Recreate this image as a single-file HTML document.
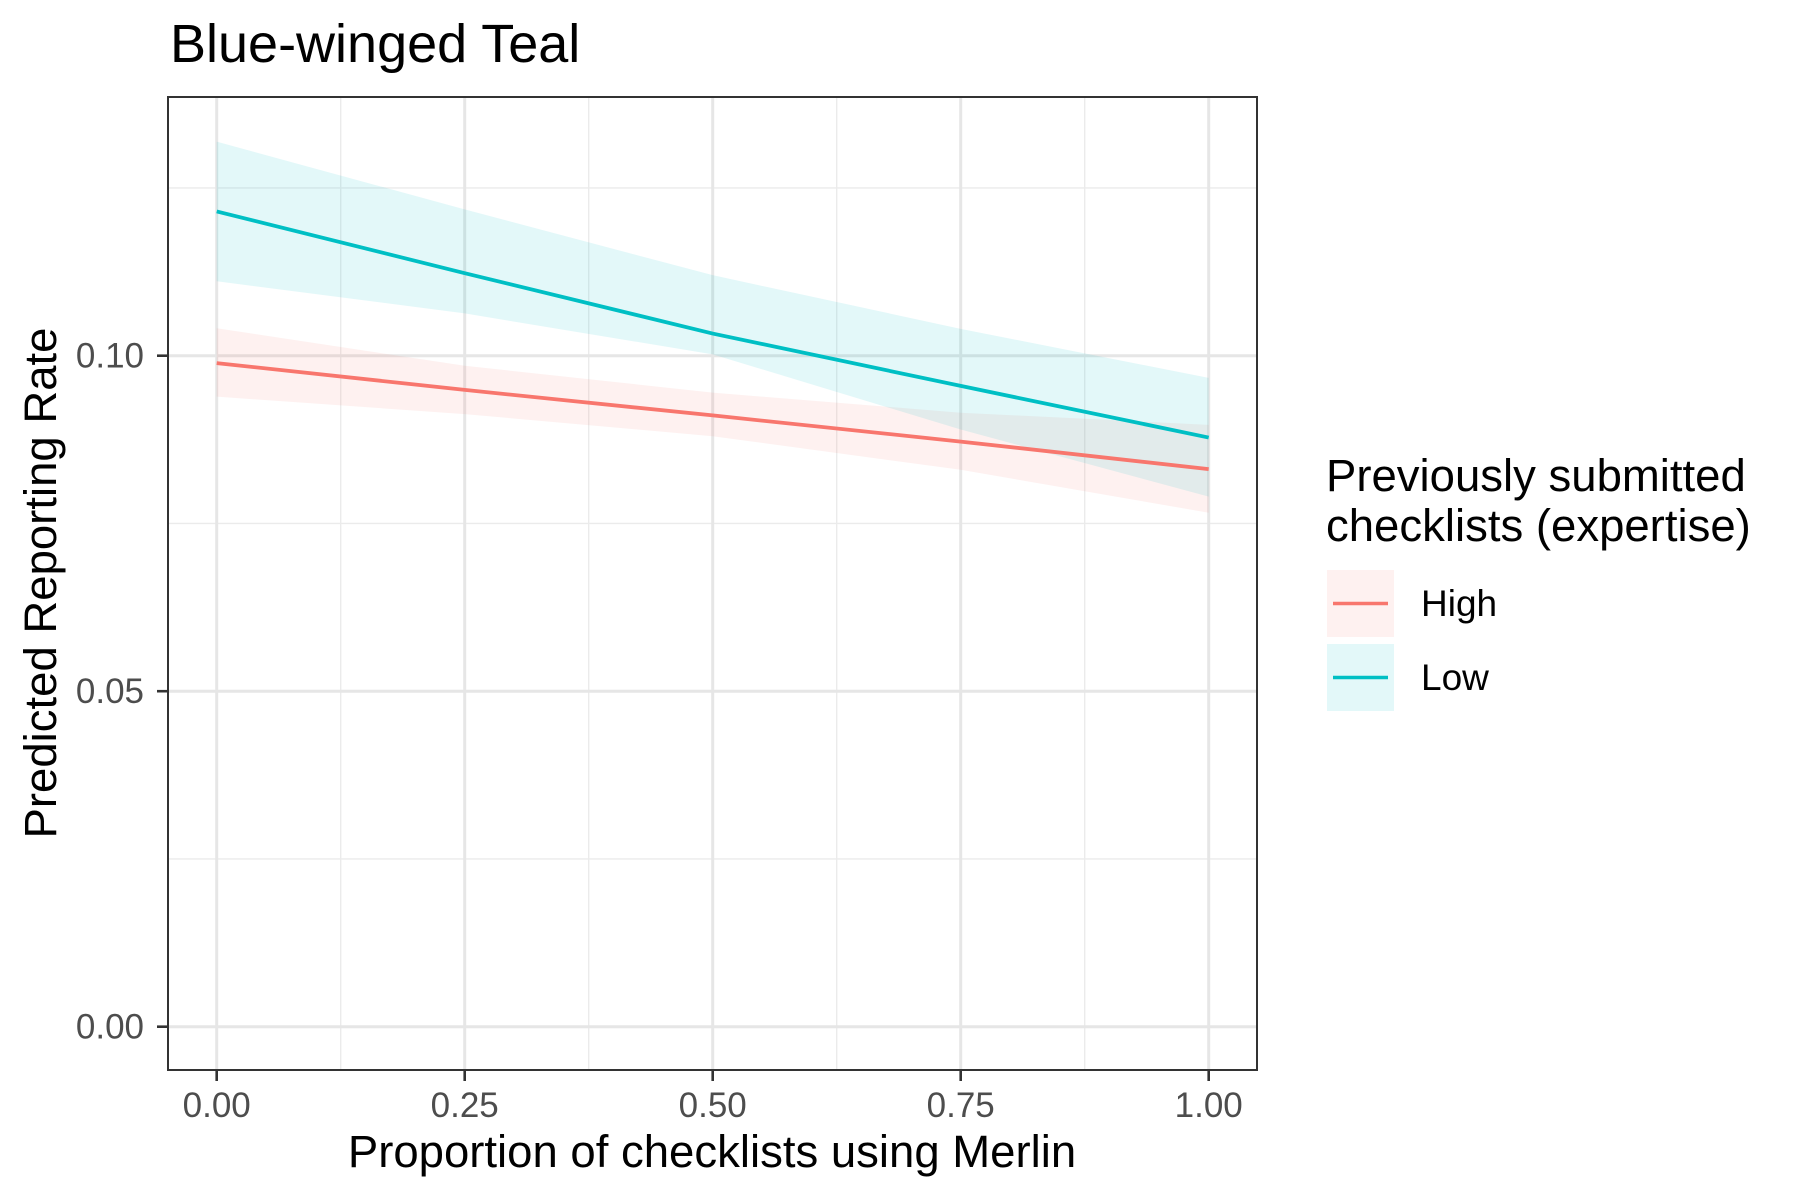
<!DOCTYPE html>
<html><head><meta charset="utf-8"><style>body{margin:0;background:#fff}svg{display:block}text{font-family:"Liberation Sans",Arial,sans-serif}</style></head>
<body>
<svg id="chart" width="1800" height="1200" viewBox="0 0 1800 1200">
<text x="170" y="62" font-size="54" fill="#000">Blue-winged Teal</text>
<g id="grid"></g><g id="bands"></g><g id="lines"></g>
<rect x="168" y="97" width="1089" height="973" fill="none" stroke="#333" stroke-width="2"/>
<g id="axes"></g>
<text x="712" y="1167" font-size="45.5" text-anchor="middle">Proportion of checklists using Merlin</text>
<text transform="translate(56,583) rotate(-90)" font-size="45.5" text-anchor="middle">Predicted Reporting Rate</text>
<text x="1326" y="491" font-size="45.5"><tspan x="1326">Previously submitted</tspan><tspan x="1326" dy="50">checklists (expertise)</tspan></text>
<g>
<rect x="1327" y="570" width="67" height="67" fill="#F8766D" fill-opacity="0.1"/>
<line x1="1333" x2="1388" y1="603.5" y2="603.5" stroke="#F8766D" stroke-width="3.5"/>
<text x="1421" y="616" font-size="37">High</text></g>
<g>
<rect x="1327" y="644" width="67" height="67" fill="#00BFC4" fill-opacity="0.11"/>
<line x1="1333" x2="1388" y1="677.5" y2="677.5" stroke="#00BFC4" stroke-width="3.5"/>
<text x="1421" y="690" font-size="37">Low</text></g>
</svg>
<script>
const xs = [0, 0.25, 0.5, 0.75, 1];
const highFit = [0.0989, 0.0949, 0.0911, 0.0872, 0.0831];
const highUpper = [0.1041, 0.0985, 0.0945, 0.0915, 0.0897];
const highLower = [0.0939, 0.0913, 0.0880, 0.0830, 0.0766];
const lowFit = [0.1215, 0.1123, 0.1033, 0.0955, 0.0878];
const lowUpper = [0.1319, 0.1218, 0.1120, 0.1040, 0.0967];
const lowLower = [0.1111, 0.1063, 0.1002, 0.0890, 0.0790];
const xTicks = [0, 0.25, 0.5, 0.75, 1];
const xTickLabels = ["0.00", "0.25", "0.50", "0.75", "1.00"];
const yTicks = [0, 0.05, 0.10];
const yTickLabels = ["0.00", "0.05", "0.10"];
const xMinor = [0.125, 0.375, 0.625, 0.875];
const yMinor = [0.025, 0.075, 0.125];

const NS = "http://www.w3.org/2000/svg";
const X = v => 216.7 + v * 992;
const Y = v => 1026.7 - v * 6710;
function mk(tag, attrs, parent) {
  const e = document.createElementNS(NS, tag);
  for (const k in attrs) e.setAttribute(k, attrs[k]);
  parent.appendChild(e);
  return e;
}
const grid = document.getElementById('grid');
xMinor.forEach(v => {
  const l = mk('line', {x1: X(v), x2: X(v), y1: 97, y2: 1070, stroke: '#ebebeb', 'stroke-width': 1.4}, grid);
  
  
});
yMinor.forEach(v => {
  const l = mk('line', {x1: 168, x2: 1257, y1: Y(v), y2: Y(v), stroke: '#ebebeb', 'stroke-width': 1.4}, grid);
  
  
});
xTicks.forEach(v => {
  const l = mk('line', {x1: X(v), x2: X(v), y1: 97, y2: 1070, stroke: '#e6e6e6', 'stroke-width': 3}, grid);
  
  
});
yTicks.forEach(v => {
  const l = mk('line', {x1: 168, x2: 1257, y1: Y(v), y2: Y(v), stroke: '#e6e6e6', 'stroke-width': 3}, grid);
  
  
});
function band(up, lo, color, op, name) {
  let d = xs.map((x, i) => (i ? 'L' : 'M') + X(x) + ',' + Y(up[i])).join('');
  for (let i = xs.length - 1; i >= 0; i--) d += 'L' + X(xs[i]) + ',' + Y(lo[i]);
  const p = mk('path', {d: d + 'Z', fill: color, 'fill-opacity': op}, document.getElementById('bands'));
  
  
}
function line(vals, color, name) {
  const p = mk('polyline', {points: xs.map((x, i) => X(x) + ',' + Y(vals[i])).join(' '), fill: 'none', stroke: color, 'stroke-width': 3.8}, document.getElementById('lines'));
  
  
}
band(highUpper, highLower, '#F8766D', 0.1, 'high-ci-band');
band(lowUpper, lowLower, '#00BFC4', 0.11, 'low-ci-band');
line(highFit, '#F8766D', 'high-line');
line(lowFit, '#00BFC4', 'low-line');
const axes = document.getElementById('axes');
xTicks.forEach((v, i) => {
  const t = mk('line', {x1: X(v), x2: X(v), y1: 1070, y2: 1081, stroke: '#333', 'stroke-width': 2.6}, axes);
  
  
  const tx = mk('text', {x: X(v), y: 1117, 'font-size': 35, fill: '#4d4d4d', 'text-anchor': 'middle'}, axes);
  tx.textContent = xTickLabels[i];
  
  
});
yTicks.forEach((v, i) => {
  const t = mk('line', {x1: 157, x2: 168, y1: Y(v), y2: Y(v), stroke: '#333', 'stroke-width': 2.6}, axes);
  
  
  const tx = mk('text', {x: 144, y: Y(v) + 12, 'font-size': 35, fill: '#4d4d4d', 'text-anchor': 'end'}, axes);
  tx.textContent = yTickLabels[i];
  
  
});
</script>
</body></html>
